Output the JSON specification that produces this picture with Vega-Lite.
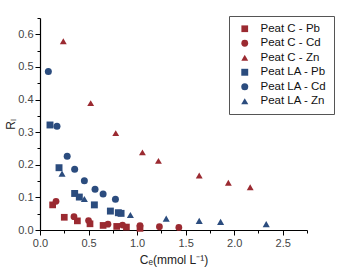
{
  "$schema": "https://vega.github.io/schema/vega-lite/v6.json",
  "autosize": "none",
  "width": 267,
  "height": 212,
  "padding": {"left": 40, "top": 18, "right": 37, "bottom": 40},
  "background": "white",
  "config": {
    "view": {"stroke": null},
    "font": "Liberation Sans"
  },
  "data": {
    "values": [
      {"series": "Peat C - Pb", "Ce": 0.13, "RL": 0.077},
      {"series": "Peat C - Pb", "Ce": 0.25, "RL": 0.039},
      {"series": "Peat C - Pb", "Ce": 0.385, "RL": 0.028},
      {"series": "Peat C - Pb", "Ce": 0.515, "RL": 0.019},
      {"series": "Peat C - Pb", "Ce": 0.65, "RL": 0.014},
      {"series": "Peat C - Pb", "Ce": 0.79, "RL": 0.011},
      {"series": "Peat C - Pb", "Ce": 0.89, "RL": 0.009},
      {"series": "Peat C - Pb", "Ce": 1.03, "RL": 0.005},
      {"series": "Peat C - Cd", "Ce": 0.165, "RL": 0.088},
      {"series": "Peat C - Cd", "Ce": 0.35, "RL": 0.041},
      {"series": "Peat C - Cd", "Ce": 0.5, "RL": 0.029},
      {"series": "Peat C - Cd", "Ce": 0.7, "RL": 0.018},
      {"series": "Peat C - Cd", "Ce": 0.85, "RL": 0.015},
      {"series": "Peat C - Cd", "Ce": 1.03, "RL": 0.013},
      {"series": "Peat C - Cd", "Ce": 1.23, "RL": 0.01},
      {"series": "Peat C - Cd", "Ce": 1.43, "RL": 0.008},
      {"series": "Peat C - Zn", "Ce": 0.24, "RL": 0.579},
      {"series": "Peat C - Zn", "Ce": 0.522, "RL": 0.389},
      {"series": "Peat C - Zn", "Ce": 0.78, "RL": 0.297},
      {"series": "Peat C - Zn", "Ce": 1.055, "RL": 0.238},
      {"series": "Peat C - Zn", "Ce": 1.22, "RL": 0.212},
      {"series": "Peat C - Zn", "Ce": 1.64, "RL": 0.167},
      {"series": "Peat C - Zn", "Ce": 1.94, "RL": 0.145},
      {"series": "Peat C - Zn", "Ce": 2.165, "RL": 0.131},
      {"series": "Peat LA - Pb", "Ce": 0.103, "RL": 0.322},
      {"series": "Peat LA - Pb", "Ce": 0.196, "RL": 0.191},
      {"series": "Peat LA - Pb", "Ce": 0.357, "RL": 0.112},
      {"series": "Peat LA - Pb", "Ce": 0.405, "RL": 0.101},
      {"series": "Peat LA - Pb", "Ce": 0.56, "RL": 0.077},
      {"series": "Peat LA - Pb", "Ce": 0.725, "RL": 0.058},
      {"series": "Peat LA - Pb", "Ce": 0.807, "RL": 0.053},
      {"series": "Peat LA - Pb", "Ce": 0.835, "RL": 0.051},
      {"series": "Peat LA - Cd", "Ce": 0.086, "RL": 0.486},
      {"series": "Peat LA - Cd", "Ce": 0.175, "RL": 0.318},
      {"series": "Peat LA - Cd", "Ce": 0.28, "RL": 0.226},
      {"series": "Peat LA - Cd", "Ce": 0.357, "RL": 0.186},
      {"series": "Peat LA - Cd", "Ce": 0.457, "RL": 0.151},
      {"series": "Peat LA - Cd", "Ce": 0.567, "RL": 0.125},
      {"series": "Peat LA - Cd", "Ce": 0.65, "RL": 0.11},
      {"series": "Peat LA - Cd", "Ce": 0.777, "RL": 0.094},
      {"series": "Peat LA - Zn", "Ce": 0.227, "RL": 0.173},
      {"series": "Peat LA - Zn", "Ce": 0.457, "RL": 0.095},
      {"series": "Peat LA - Zn", "Ce": 0.931, "RL": 0.046},
      {"series": "Peat LA - Zn", "Ce": 1.3, "RL": 0.035},
      {"series": "Peat LA - Zn", "Ce": 1.64, "RL": 0.028},
      {"series": "Peat LA - Zn", "Ce": 1.86, "RL": 0.025},
      {"series": "Peat LA - Zn", "Ce": 2.33, "RL": 0.018}
    ]
  },
  "mark": {"type": "point", "filled": true, "opacity": 1, "size": 50},
  "encoding": {
    "x": {
      "field": "Ce",
      "type": "quantitative",
      "scale": {"domain": [0, 2.75], "nice": false, "zero": false},
      "axis": {
        "title": "Cₑ(mmol L⁻¹)",
        "titleFont": "Liberation Sans",
        "titleFontSize": 12,
        "titleFontWeight": "normal",
        "titleColor": "#222",
        "titlePadding": 6,
        "values": [0, 0.25, 0.5, 0.75, 1, 1.25, 1.5, 1.75, 2, 2.25, 2.5, 2.75],
        "labelExpr": "(round(datum.value*100) % 50 == 0) ? format(datum.value, '.1f') : ''",
        "labelFontSize": 11,
        "labelColor": "#444",
        "labelPadding": 2,
        "grid": false,
        "domainColor": "#000",
        "domainWidth": 1.2,
        "tickColor": "#000",
        "tickSize": {"condition": {"test": "round(datum.value*100) % 50 == 0", "value": 5}, "value": 3},
        "labelFlush": false,
        "labelOverlap": false
      }
    },
    "y": {
      "field": "RL",
      "type": "quantitative",
      "scale": {"domain": [0, 0.65], "nice": false, "zero": false},
      "axis": {
        "title": "Rₗ",
        "titleFont": "Liberation Sans",
        "titleFontSize": 12,
        "titleFontWeight": "normal",
        "titleColor": "#222",
        "titleX": -23,
        "values": [0, 0.05, 0.1, 0.15, 0.2, 0.25, 0.3, 0.35, 0.4, 0.45, 0.5, 0.55, 0.6, 0.65],
        "labelExpr": "(round(datum.value*100) % 10 == 0) ? format(datum.value, '.1f') : ''",
        "labelFontSize": 11,
        "labelColor": "#444",
        "labelPadding": 2,
        "grid": false,
        "domainColor": "#000",
        "domainWidth": 1.2,
        "tickColor": "#000",
        "tickSize": {"condition": {"test": "round(datum.value*100) % 10 == 0", "value": 5}, "value": 3},
        "labelFlush": false,
        "labelOverlap": false
      }
    },
    "color": {
      "field": "series",
      "type": "nominal",
      "scale": {
        "domain": ["Peat C - Pb", "Peat C - Cd", "Peat C - Zn", "Peat LA - Pb", "Peat LA - Cd", "Peat LA - Zn"],
        "range": ["#9B2A31", "#9B2A31", "#9B2A31", "#2B4C7E", "#2B4C7E", "#2B4C7E"]
      },
      "legend": {
        "title": null,
        "orient": "none",
        "legendX": 189,
        "legendY": -2,
        "strokeColor": "#555",
        "padding": 7,
        "symbolSize": 40,
        "symbolOffset": 3,
        "labelFontSize": 11.5,
        "labelFont": "Liberation Sans",
        "labelColor": "#111",
        "rowPadding": 1.5,
        "labelOffset": 10,
        "fillColor": "white"
      }
    },
    "shape": {
      "field": "series",
      "type": "nominal",
      "scale": {
        "domain": ["Peat C - Pb", "Peat C - Cd", "Peat C - Zn", "Peat LA - Pb", "Peat LA - Cd", "Peat LA - Zn"],
        "range": ["square", "circle", "triangle-up", "square", "circle", "triangle-up"]
      }
    },
    "size": {
      "field": "series",
      "type": "nominal",
      "scale": {
        "domain": ["Peat C - Pb", "Peat C - Cd", "Peat C - Zn", "Peat LA - Pb", "Peat LA - Cd", "Peat LA - Zn"],
        "range": [45, 50, 70, 45, 50, 70]
      }
    }
  }
}
